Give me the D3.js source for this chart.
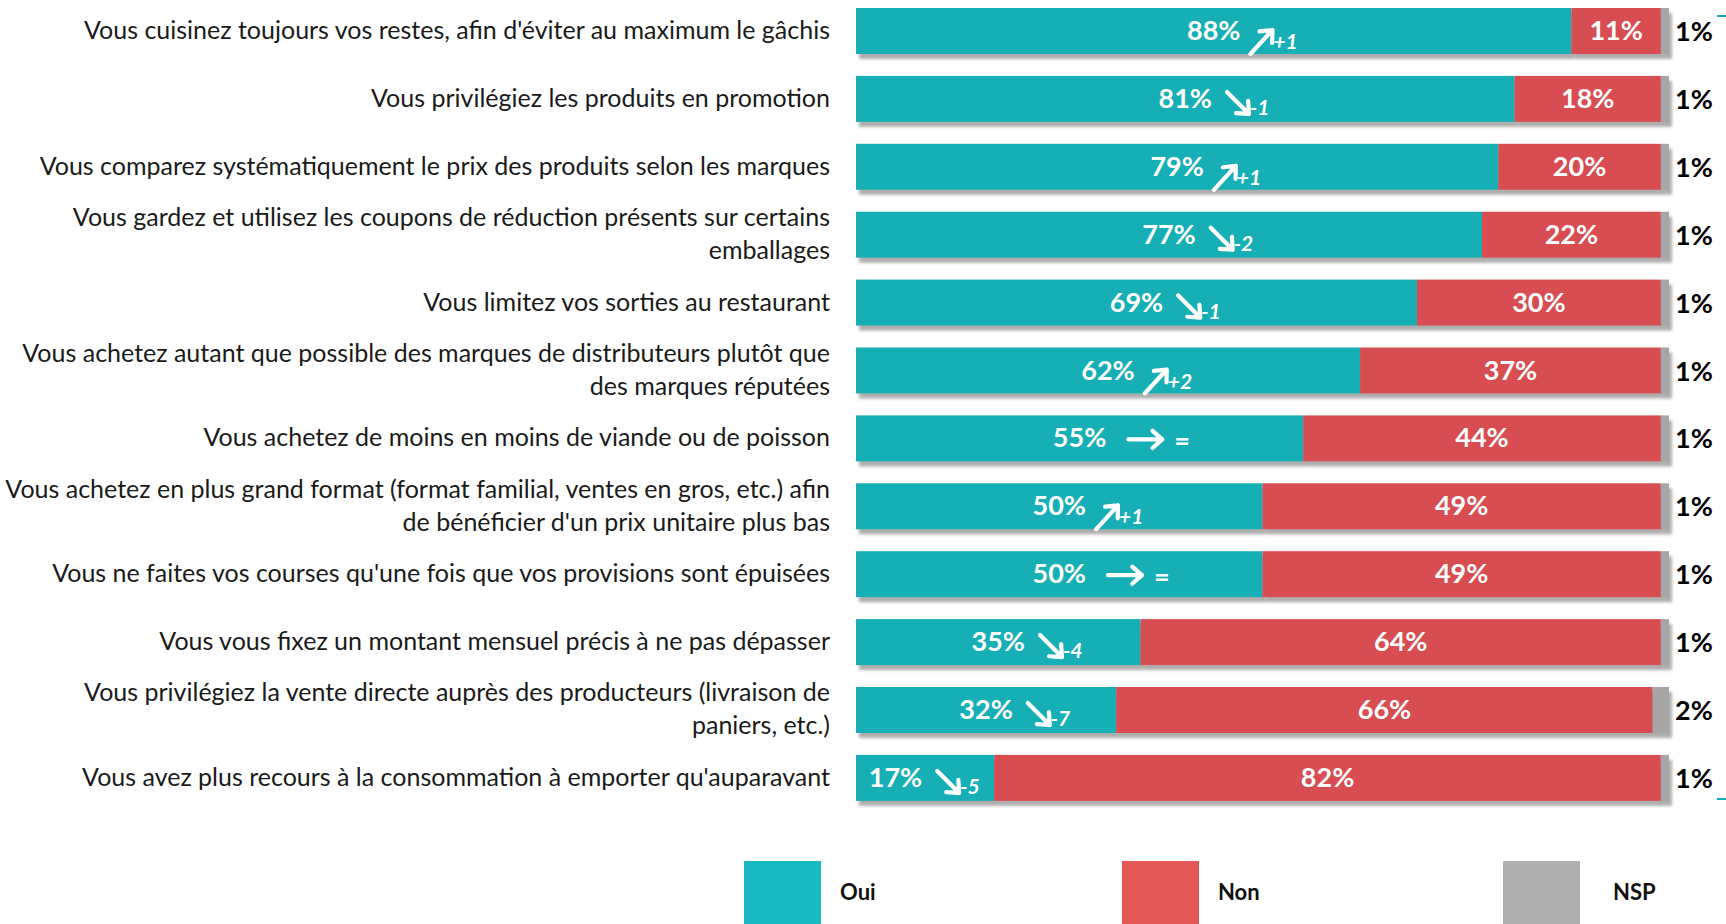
<!DOCTYPE html>
<html>
<head>
<meta charset="utf-8">
<script src="https://cdn.jsdelivr.net/npm/d3@7"></script>
<style>
  body { margin: 0; background: #fff; }
  svg { display: block; }
  .lbl { font-family: Lato, "Open Sans", sans-serif; font-size: 25px; fill: #1a1a1a; }
  .pct { font-family: Lato, "Open Sans", sans-serif; font-weight: bold; font-size: 27px; fill: #fff; }
  .nsp { font-family: Lato, "Open Sans", sans-serif; font-weight: bold; font-size: 27px; fill: #000; }
  .evo { font-family: Lato, "Open Sans", sans-serif; font-weight: bold; font-style: italic; font-size: 21px; fill: #fff; }
  .evo.eq { font-size: 27px; font-style: normal; }
  .leg { font-family: Lato, "Open Sans", sans-serif; font-weight: bold; font-size: 22px; fill: #111; }
</style>
</head>
<body>
<div id="chart"></div>
<script>
var svgWidth = 1726;
var svgHeight = 924;

// data
var categories = [
    ["Vous cuisinez toujours vos restes, afin d'éviter au maximum le gâchis"],
    ["Vous privilégiez les produits en promotion"],
    ["Vous comparez systématiquement le prix des produits selon les marques"],
    ["Vous gardez et utilisez les coupons de réduction présents sur certains", "emballages"],
    ["Vous limitez vos sorties au restaurant"],
    ["Vous achetez autant que possible des marques de distributeurs plutôt que", "des marques réputées"],
    ["Vous achetez de moins en moins de viande ou de poisson"],
    ["Vous achetez en plus grand format (format familial, ventes en gros, etc.) afin", "de bénéficier d'un prix unitaire plus bas"],
    ["Vous ne faites vos courses qu'une fois que vos provisions sont épuisées"],
    ["Vous vous fixez un montant mensuel précis à ne pas dépasser"],
    ["Vous privilégiez la vente directe auprès des producteurs (livraison de", "paniers, etc.)"],
    ["Vous avez plus recours à la consommation à emporter qu'auparavant"]
];
var oui = [88, 81, 79, 77, 69, 62, 55, 50, 50, 35, 32, 17];
var non = [11, 18, 20, 22, 30, 37, 44, 49, 49, 64, 66, 82];
var nsp = [1, 1, 1, 1, 1, 1, 1, 1, 1, 1, 2, 1];
var evolution = ["+1", "-1", "+1", "-2", "-1", "+2", "=", "+1", "=", "-4", "-7", "-5"];

var seriesNames = ["Oui", "Non", "NSP"];
var barColors = ["#14afb6", "#d84e51", "#a6a6a6"];
var legendColors = ["#19b9c1", "#e35757", "#afafaf"];

var svg = d3.select("#chart")
    .append("svg")
    .attr("width", svgWidth)
    .attr("height", svgHeight);

var defs = svg.append("defs");
var shadow = defs.append("filter").attr("id", "shadow")
    .attr("x", "-5%").attr("y", "-20%").attr("width", "110%").attr("height", "150%");
shadow.append("feDropShadow")
    .attr("dx", 3).attr("dy", 5).attr("stdDeviation", 1.6)
    .attr("flood-color", "#777").attr("flood-opacity", 0.6);

var rows = categories.map(function(c, i) {
    return { label: c, oui: oui[i], non: non[i], nsp: nsp[i], evo: evolution[i], idx: i };
});

var xScale = d3.scaleLinear().domain([0, 100]).range([856, 1669]);
var yScale = d3.scaleBand()
    .domain(d3.range(rows.length))
    .range([8, 800.9])
    .paddingInner(0.3225)
    .paddingOuter(0);

var stack = d3.stack().keys(["oui", "non", "nsp"]);
var stacked = stack(rows);

// bars
var rowGroups = svg.selectAll(".row")
    .data(rows)
    .enter()
    .append("g")
    .attr("class", "row")
    .attr("filter", "url(#shadow)");

stacked.forEach(function(layer, k) {
    rowGroups.append("rect")
        .attr("x", (d, i) => xScale(layer[i][0]))
        .attr("y", (d, i) => yScale(i))
        .attr("width", (d, i) => xScale(layer[i][1]) - xScale(layer[i][0]))
        .attr("height", yScale.bandwidth())
        .attr("fill", barColors[k]);
});

// category labels
var labels = svg.selectAll(".lbl")
    .data(rows)
    .enter()
    .append("text")
    .attr("class", "lbl")
    .attr("text-anchor", "end")
    .attr("x", 830)
    .attr("y", d => yScale(d.idx) + yScale.bandwidth() / 2);

labels.each(function(d) {
    var t = d3.select(this);
    var n = d.label.length;
    d.label.forEach(function(line, j) {
        t.append("tspan")
            .attr("x", 830)
            .attr("dy", j === 0 ? (8 - (n - 1) * 16.5) + "px" : "33px")
            .text(line);
    });
});

// arrow helper
function arrowPath(x0, y0, x1, y1) {
    var a = Math.atan2(y1 - y0, x1 - x0), L = 13, s = 0.72;
    return "M" + x0 + "," + y0 + "L" + x1 + "," + y1 +
        "M" + (x1 - L * Math.cos(a - s)) + "," + (y1 - L * Math.sin(a - s)) +
        "L" + x1 + "," + y1 +
        "L" + (x1 - L * Math.cos(a + s)) + "," + (y1 - L * Math.sin(a + s));
}

// oui labels + evolution arrows
rows.forEach(function(d) {
    var cy = yScale(d.idx) + yScale.bandwidth() / 2;
    var x0 = xScale(0), x1 = xScale(d.oui);
    var t = svg.append("text").attr("class", "pct")
        .attr("text-anchor", "middle")
        .attr("y", cy + 9)
        .text(d.oui + "%");
    var w = t.node().getComputedTextLength();
    var flat = d.evo === "=";
    var groupExtra = flat ? 90 : 64;
    var cx = Math.min((x0 + x1) / 2, x1 - 8 - groupExtra - w / 2);
    t.attr("x", cx);
    var lr = cx + w / 2;
    var p, tx, ty;
    if (flat) {
        p = arrowPath(lr + 22, cy + 1, lr + 56, cy + 1);
        tx = lr + 68; ty = cy + 12;
    } else if (d.evo.charAt(0) === "+") {
        p = arrowPath(lr + 10, cy + 23, lr + 32, cy - 1);
        tx = lr + 33; ty = cy + 18;
    } else {
        p = arrowPath(lr + 15, cy - 7, lr + 37, cy + 15);
        tx = lr + 38; ty = cy + 16;
    }
    svg.append("path")
        .attr("d", p)
        .attr("fill", "none")
        .attr("stroke", "#fff")
        .attr("stroke-width", 4.2)
        .attr("stroke-linecap", "round")
        .attr("stroke-linejoin", "round");
    svg.append("text")
        .attr("class", flat ? "evo eq" : "evo")
        .attr("x", tx).attr("y", ty)
        .text(d.evo);
});

// non labels
svg.selectAll(".nonlbl")
    .data(rows)
    .enter()
    .append("text")
    .attr("class", "pct")
    .attr("text-anchor", "middle")
    .attr("x", d => (xScale(d.oui) + xScale(d.oui + d.non)) / 2)
    .attr("y", d => yScale(d.idx) + yScale.bandwidth() / 2 + 9)
    .text(d => d.non + "%");

// nsp labels
svg.selectAll(".nsp")
    .data(rows)
    .enter()
    .append("text")
    .attr("class", "nsp")
    .attr("x", 1675)
    .attr("y", d => yScale(d.idx) + yScale.bandwidth() / 2 + 10)
    .text(d => d.nsp + "%");

// small teal marks at the right edge
[16, 799].forEach(function(yy) {
    svg.append("line")
        .attr("x1", 1717).attr("x2", 1726)
        .attr("y1", yy).attr("y2", yy)
        .attr("stroke", "#14afb6").attr("stroke-width", 2);
});

// legend
var legendX = [744, 1122, 1503];
var legend = svg.selectAll(".legend")
    .data(seriesNames)
    .enter()
    .append("g")
    .attr("class", "legend");
legend.append("rect")
    .attr("x", (d, i) => legendX[i])
    .attr("y", 861)
    .attr("width", 77)
    .attr("height", 70)
    .attr("fill", (d, i) => legendColors[i]);
legend.append("text")
    .attr("class", "leg")
    .attr("x", (d, i) => legendX[i] + 96 + (i === 2 ? 14 : 0))
    .attr("y", 900)
    .text(d => d);
</script>
</body>
</html>
